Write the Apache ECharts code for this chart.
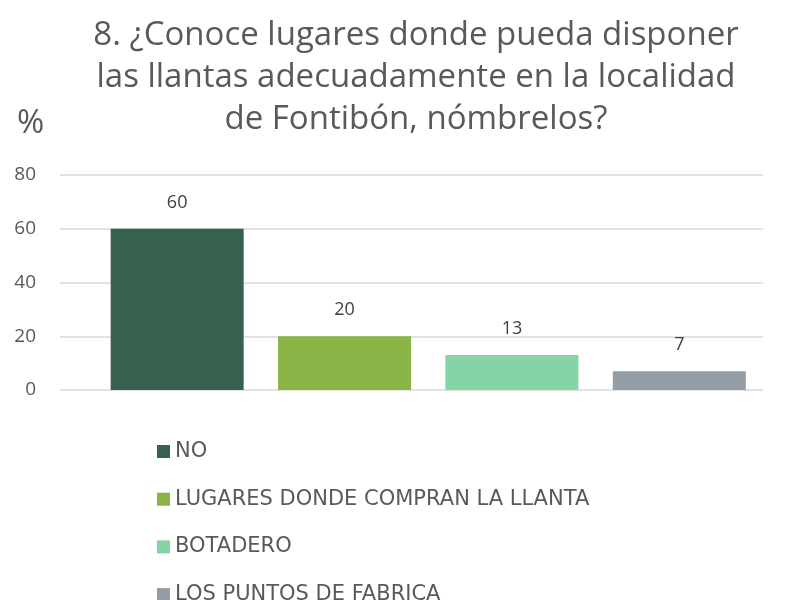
<!DOCTYPE html>
<html>
<head>
<meta charset="utf-8">
<script src="https://cdn.jsdelivr.net/npm/echarts@6/dist/echarts.min.js"></script>
<style>
  html, body { margin: 0; padding: 0; background: #fff; }
  #main { width: 785px; height: 600px; }
</style>
</head>
<body>
<div id="main"></div>
<script>
// categorias y valores (%)
const categories = ['NO', 'LUGARES DONDE COMPRAN LA LLANTA', 'BOTADERO', 'LOS PUNTOS DE FABRICA'];
const values = [60, 20, 13, 7];
const colors = ['#37614F', '#8AB446', '#85D4A5', '#949CA6'];
const yTicks = [0, 20, 40, 60, 80];

const font = '"Open Sans", Lato, sans-serif';
const wide = '"DejaVu Sans", "Open Sans", sans-serif';
const chart = echarts.init(document.getElementById('main'));

const series = categories.map(function (name, i) {
  return {
    name: name,
    type: 'bar',
    barWidth: 133,
    barGap: '-100%',
    itemStyle: { color: colors[i] },
    label: {
      show: true,
      position: 'top',
      distance: 17,
      color: '#404040',
      fontSize: 18,
      fontFamily: font
    },
    data: [[i, values[i]]]
  };
});

chart.setOption({
  animation: false,
  textStyle: { fontFamily: font },
  title: [{
    text: '8. ¿Conoce lugares donde pueda disponer\nlas llantas adecuadamente en la localidad\nde Fontibón, nómbrelos?',
    left: 411,
    top: 10,
    textAlign: 'center',
    textStyle: { color: '#595959', fontSize: 33, fontWeight: 'normal', lineHeight: 42, fontFamily: font }
  }, {
    text: '%',
    left: 12,
    top: 102,
    textStyle: { color: '#595959', fontSize: 33, fontWeight: 'normal', fontFamily: font }
  }],
  legend: {
    orient: 'vertical',
    left: 152,
    top: 436,
    height: 200,
    itemWidth: 13,
    itemHeight: 13,
    itemGap: 26.7,
    icon: 'rect',
    textStyle: { color: '#595959', fontSize: 21, lineHeight: 21, fontFamily: wide },
    data: categories
  },
  grid: { left: 60, right: 22, top: 175, bottom: 210, containLabel: false },
  xAxis: {
    type: 'value',
    min: -0.7,
    max: 3.5,
    show: false
  },
  yAxis: {
    type: 'value',
    min: yTicks[0],
    max: yTicks[yTicks.length - 1],
    interval: 20,
    axisLine: { show: false },
    axisTick: { show: false },
    axisLabel: { color: '#595959', fontSize: 19, margin: 24, fontFamily: font },
    splitLine: { lineStyle: { color: '#D9D9D9', width: 1.5 } }
  },
  series: series
});
</script>
</body>
</html>
